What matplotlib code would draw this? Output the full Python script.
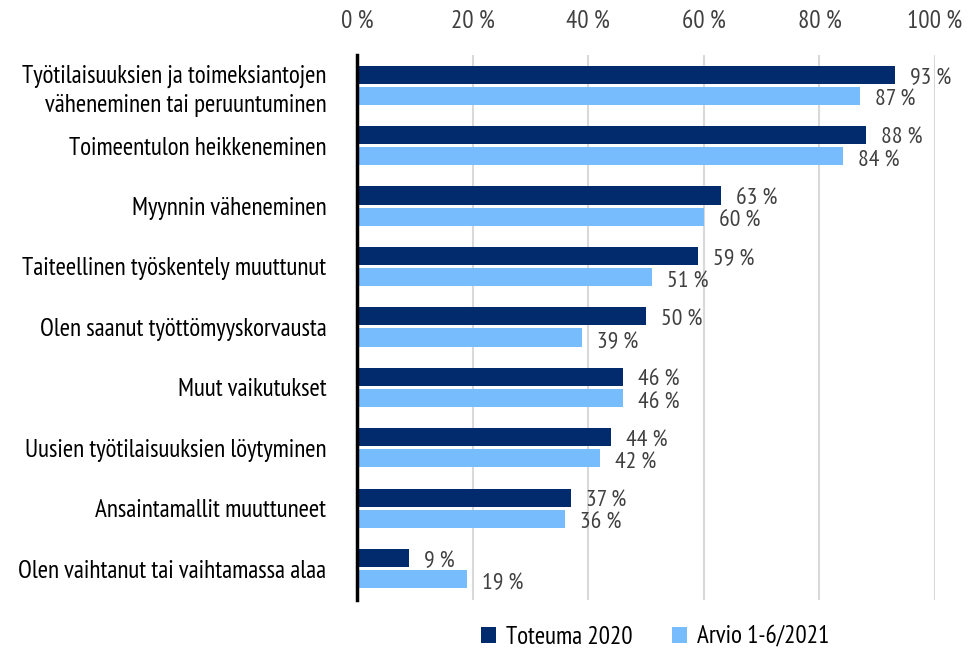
import matplotlib
matplotlib.use("Agg")
import matplotlib.pyplot as plt
import numpy as np
from matplotlib.patches import Patch

categories = [
    "Työtilaisuuksien ja toimeksiantojen\nväheneminen tai peruuntuminen",
    "Toimeentulon heikkeneminen",
    "Myynnin väheneminen",
    "Taiteellinen työskentely muuttunut",
    "Olen saanut työttömyyskorvausta",
    "Muut vaikutukset",
    "Uusien työtilaisuuksien löytyminen",
    "Ansaintamallit muuttuneet",
    "Olen vaihtanut tai vaihtamassa alaa",
]
toteuma_2020 = [93, 88, 63, 59, 50, 46, 44, 37, 9]
arvio_2021 = [87, 84, 60, 51, 39, 46, 42, 36, 19]
series_names = ["Toteuma 2020", "Arvio 1-6/2021"]
xticks = [0, 20, 40, 60, 80, 100]
xtick_labels = ["0 %", "20 %", "40 %", "60 %", "80 %", "100 %"]

plt.rcParams['font.family'] = ['PT Sans Narrow', 'Fira Sans Condensed', 'Roboto Condensed',
                               'Liberation Sans', 'DejaVu Sans']

dark = "#022b6d"
light = "#77bcfd"
grey_text = "#404040"

fig = plt.figure(figsize=(9.68, 6.51), dpi=100)
ax = fig.add_axes([357/968, 1-600/651, (935-357)/968, 545/651])

y = np.arange(len(categories))
h = 0.3
gap = 0.025
ax.barh(y - h/2 - gap, toteuma_2020, height=h, color=dark, zorder=3)
ax.barh(y + h/2 + gap, arvio_2021, height=h, color=light, zorder=3)

for i, (a, b) in enumerate(zip(toteuma_2020, arvio_2021)):
    ax.text(a + 2.6, i - h/2 - gap + 0.06, f"{a} %", va="center", ha="left",
            fontsize=17, color=grey_text)
    ax.text(b + 2.6, i + h/2 + gap + 0.08, f"{b} %", va="center", ha="left",
            fontsize=17, color=grey_text)

ax.set_xlim(0, 100)
ax.set_ylim(8.52, -0.5)
ax.set_xticks(xticks)
ax.set_xticklabels(xtick_labels, fontsize=18, color=grey_text)
ax.xaxis.tick_top()
ax.tick_params(axis="x", length=0, pad=16)
ax.set_yticks(y)
ax.set_yticklabels(categories, fontsize=18, color="black", linespacing=1.35)
ax.tick_params(axis="y", length=0, pad=22)

ax.grid(axis="x", color="#d9d9d9", linewidth=1.5, zorder=0)
for s in ["top", "right", "bottom"]:
    ax.spines[s].set_visible(False)
ax.spines["left"].set_linewidth(2.5)
ax.spines["left"].set_color("black")
ax.spines["left"].set_zorder(4)

handles = [Patch(facecolor=dark, label=series_names[0]),
           Patch(facecolor=light, label=series_names[1])]
fig.legend(handles=handles, loc="center", bbox_to_anchor=(655/968, 1-637/651),
           ncol=2, frameon=False, fontsize=18, handlelength=0.6, handleheight=0.6,
           columnspacing=1.6, handletextpad=0.4)

fig.savefig("out.png", dpi=100)
